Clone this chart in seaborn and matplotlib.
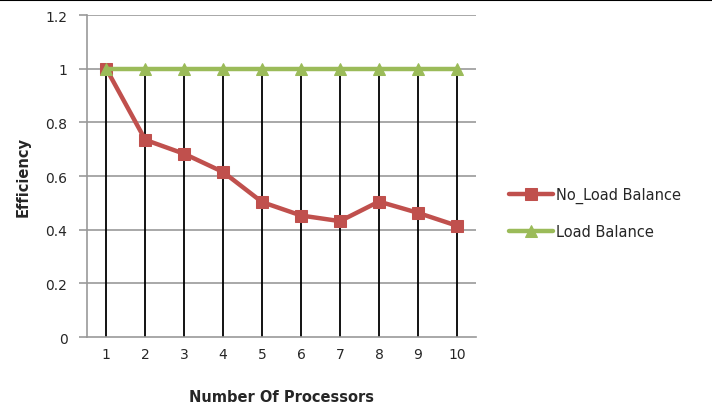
import numpy as np
import pandas as pd
import matplotlib.pyplot as plt
import seaborn as sns
from matplotlib.lines import Line2D

processors = [1, 2, 3, 4, 5, 6, 7, 8, 9, 10]
no_load_balance = [1.0, 0.735, 0.683, 0.615, 0.503, 0.453, 0.432, 0.505, 0.463, 0.415]
load_balance = [1.0, 1.0, 1.0, 1.0, 1.0, 1.0, 1.0, 1.0, 1.0, 1.0]
y_ticks = [0, 0.2, 0.4, 0.6, 0.8, 1, 1.2]
y_tick_labels = ["0", "0.2", "0.4", "0.6", "0.8", "1", "1.2"]

df = pd.DataFrame({
    "Processors": processors * 2,
    "Efficiency": no_load_balance + load_balance,
    "Series": ["No_Load Balance"] * 10 + ["Load Balance"] * 10,
})

sns.set_style("white")
plt.rcParams["font.family"] = ["DejaVu Sans"]

fig = plt.figure(figsize=(7.12, 4.10), dpi=100)
ax = fig.add_axes([0.122, 0.1756, 0.547, 0.785])

# gridlines
for yv in y_ticks[1:]:
    ax.axhline(yv, color="#999999", lw=1.2, zorder=0)

# drop lines
tops = np.maximum(no_load_balance, load_balance)
ax.vlines(processors, 0, tops, color="black", lw=1.3, zorder=1)

red = "#C0504D"
green = "#9BBB59"
sns.lineplot(data=df[df.Series == "No_Load Balance"], x="Processors", y="Efficiency",
             color=red, lw=3.2, marker="s", markersize=9, markeredgecolor=red,
             ax=ax, zorder=3, label="No_Load Balance")
sns.lineplot(data=df[df.Series == "Load Balance"], x="Processors", y="Efficiency",
             color=green, lw=3.2, marker="^", markersize=8, markeredgecolor=green,
             ax=ax, zorder=4, label="Load Balance")

ax.set_xlim(0.5, 10.5)
ax.set_ylim(0, 1.2)
ax.set_xticks(processors)
ax.set_xticklabels([str(p) for p in processors])
ax.set_yticks(y_ticks)
ax.set_yticklabels(y_tick_labels)

for s in ["top", "right"]:
    ax.spines[s].set_visible(False)
for s in ["left", "bottom"]:
    ax.spines[s].set_color("#999999")
    ax.spines[s].set_linewidth(1.2)

ax.tick_params(axis="y", which="both", left=True, length=6, width=1.2, color="#999999",
               labelsize=10, pad=8)
ax.tick_params(axis="x", which="both", bottom=False, labelsize=10, pad=4)

ax.set_xlabel("Number Of Processors", fontsize=10.5, fontweight="bold", labelpad=20)
ax.set_ylabel("Efficiency", fontsize=10.5, fontweight="bold", labelpad=11)

ax.legend(loc="center left", bbox_to_anchor=(1.05, 0.385), frameon=False, fontsize=10.5,
          handlelength=3, handletextpad=0.2, labelspacing=1.45)

fig.add_artist(Line2D([0, 1], [1 - 1.0 / 410, 1 - 1.0 / 410], color="black", lw=1.5,
                      transform=fig.transFigure))

fig.savefig("out.png", dpi=100)
